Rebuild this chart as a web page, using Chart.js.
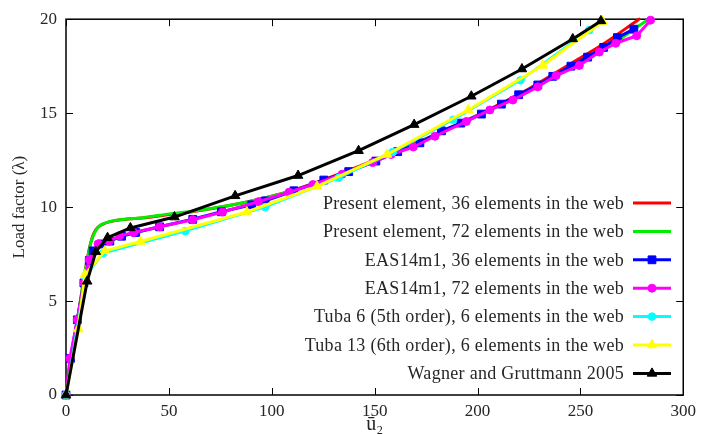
<!DOCTYPE html>
<html>
<head>
<meta charset="utf-8">
<script src="https://cdn.jsdelivr.net/npm/chart.js@4/dist/chart.umd.min.js"></script>
<style>
  html, body { margin: 0; padding: 0; background: #fff; }
</style>
</head>
<body>
<canvas id="plot" width="702" height="434"></canvas>
<script>
// tick values for both axes
const xTicks = [0, 50, 100, 150, 200, 250, 300];
const yTicks = [0, 5, 10, 15, 20];

const seriesNames = [
  'Present element, 36 elements in the web',
  'Present element, 72 elements in the web',
  'EAS14m1, 36 elements in the web',
  'EAS14m1, 72 elements in the web',
  'Tuba 6 (5th order), 6 elements in the web',
  'Tuba 13 (6th order), 6 elements in the web',
  'Wagner and Gruttmann 2005'
];

// [u2, load factor] pairs
const present36 = [[0,0],[5,3.6],[9,6.4],[10.6,7.4],[12,8.1],[13.5,8.6],[15.5,8.92],[18.5,9.12],[25,9.3],[37,9.42],[50,9.6],[62,9.77],[80,10.1],[94,10.42],[108,10.82],[125,11.45],[150,12.5],[175,13.65],[200,14.9],[225,16.3],[245,17.62],[260,18.6],[278.5,20.0]];
const present72 = [[0,0],[5,3.6],[9,6.4],[10.8,7.46],[12.2,8.15],[13.8,8.62],[16,8.98],[19.5,9.17],[26,9.32],[37.4,9.44],[50.3,9.64],[61.4,9.78],[80,10.1],[94,10.42],[107.6,10.8],[125,11.4],[150,12.45],[175,13.6],[200,14.85],[225,16.2],[250,17.7],[270,19.0],[283,20.0]];
const eas36 = [[0,0],[2.2,1.95],[5.5,4.0],[8.7,5.96],[11.3,7.16],[13.2,7.67],[17.2,8.04],[21.3,8.19],[27,8.45],[33.9,8.65],[45.5,8.95],[61.6,9.35],[75.5,9.75],[90.3,10.12],[96.8,10.33],[110.8,10.87],[125.3,11.44],[137.4,11.89],[150.6,12.45],[161.2,12.95],[172,13.42],[182.5,14.06],[191.9,14.47],[201.9,14.95],[211.6,15.48],[220,15.98],[229.3,16.5],[236.6,16.96],[245.4,17.5],[253.5,17.98],[261.3,18.5],[268,19.02],[276,19.47]];
const eas72 = [[0,0],[1.9,1.95],[5.5,4.0],[8.7,5.96],[11.3,7.19],[15.6,8.04],[21,8.19],[26.1,8.47],[32.9,8.65],[45.5,8.95],[61.6,9.33],[76.1,9.74],[93.5,10.29],[108.4,10.79],[120,11.2],[134.2,11.75],[149,12.37],[158,12.8],[168.8,13.2],[179.3,13.77],[194.6,14.56],[206,15.17],[217.2,15.7],[229.3,16.4],[238.2,17.0],[249.5,17.54],[259.2,18.25],[267.2,18.72],[277.4,19.12],[284.1,19.95]];
const tuba6 = [[0,0],[9.5,6.3],[18,7.54],[58,8.72],[96.8,10.0],[132.6,11.56],[158.8,12.93],[188.2,14.65],[220.9,16.75],[254.3,19.42]];
const tuba13 = [[0,0],[6,3.51],[9.2,6.4],[18.9,7.67],[36.2,8.17],[87.9,9.74],[122,11.1],[156,12.8],[195.5,15.17],[231.7,17.54],[260.8,19.88]];
const wagner = [[0,0],[10.3,6.05],[14.5,7.63],[20.2,8.37],[31.3,8.89],[52.7,9.47],[82.2,10.6],[112.8,11.68],[142.2,13.0],[169.2,14.39],[197,15.9],[221.6,17.35],[246.3,18.95],[260,19.91]];

const FONT = "'Liberation Serif', 'Times New Roman', serif";
const INK = '#262626';
const toXY = arr => arr.map(p => ({ x: p[0], y: p[1] }));

function series(i, pts, color, style, radius, width, smooth) {
  return {
    label: seriesNames[i],
    data: toXY(pts),
    borderColor: color,
    backgroundColor: color,
    borderWidth: width,
    pointStyle: style || 'circle',
    pointRadius: style ? radius : 0,
    pointBorderWidth: 1,
    pointBorderColor: color,
    pointBackgroundColor: color,
    tension: smooth ? 0.4 : 0,
    cubicInterpolationMode: smooth ? 'monotone' : 'default',
    order: 6 - i,   // later curves sit on top
    clip: false
  };
}

// box around the plot with inward ticks on all four sides
const frame = {
  id: 'frame',
  beforeDatasetsDraw(chart) {
    const { ctx, chartArea: a, scales: { x, y } } = chart;
    const t = 7;
    ctx.save();
    ctx.strokeStyle = '#000';
    ctx.lineWidth = 1.5;
    ctx.strokeRect(a.left, a.top, a.right - a.left, a.bottom - a.top);
    ctx.beginPath();
    xTicks.forEach(v => {
      const px = Math.round(x.getPixelForValue(v)) + 0.5;
      ctx.moveTo(px, a.bottom); ctx.lineTo(px, a.bottom - t);
      ctx.moveTo(px, a.top); ctx.lineTo(px, a.top + t);
    });
    yTicks.forEach(v => {
      const py = Math.round(y.getPixelForValue(v)) + 0.5;
      ctx.moveTo(a.left, py); ctx.lineTo(a.left + t, py);
      ctx.moveTo(a.right, py); ctx.lineTo(a.right - t, py);
    });
    ctx.lineWidth = 1;
    ctx.stroke();
    ctx.restore();
  }
};

// key in the lower right: text right-aligned, sample line to its right
const key = {
  id: 'key',
  afterDatasetsDraw(chart) {
    const { ctx } = chart;
    const textRight = 624, x0 = 633, x1 = 671, top = 203, step = 28.4;
    ctx.save();
    ctx.font = '18px ' + FONT;
    ctx.letterSpacing = '0.3px';
    ctx.textAlign = 'right';
    ctx.textBaseline = 'middle';
    chart.data.datasets.forEach((ds, i) => {
      const yy = top + i * step;
      ctx.fillStyle = INK;
      ctx.fillText(ds.label, textRight, yy + 1);
      ctx.strokeStyle = ds.borderColor;
      ctx.lineWidth = 3;
      ctx.beginPath();
      ctx.moveTo(x0, yy); ctx.lineTo(x1, yy);
      ctx.stroke();
      if (ds.pointRadius > 0) {
        ctx.fillStyle = ds.borderColor;
        ctx.strokeStyle = ds.borderColor;
        ctx.lineWidth = 1;
        Chart.helpers.drawPoint(ctx, { pointStyle: ds.pointStyle, rotation: 0, borderWidth: 1, radius: ds.pointRadius }, (x0 + x1) / 2, yy);
      }
    });
    ctx.restore();
  }
};

new Chart(document.getElementById('plot'), {
  type: 'line',
  data: {
    datasets: [
      series(0, present36, '#ff0000', null, 0, 3, true),
      series(1, present72, '#00ee00', null, 0, 3, true),
      series(2, eas36, '#0000ff', 'rect', 5.5, 3, false),
      series(3, eas72, '#ff00ff', 'circle', 4, 3, false),
      series(4, tuba6, '#00ffff', 'circle', 3.8, 2.5, false),
      series(5, tuba13, '#ffff00', 'triangle', 5.5, 3, false),
      series(6, wagner, '#000000', 'triangle', 5.5, 3, false)
    ]
  },
  options: {
    responsive: false,
    devicePixelRatio: 1,
    animation: false,
    layout: { padding: { left: 0, right: 16, top: 15, bottom: 0 } },
    plugins: { legend: { display: false }, tooltip: { enabled: false } },
    elements: { line: { borderCapStyle: 'round', borderJoinStyle: 'round' } },
    scales: {
      x: {
        type: 'linear', min: 0, max: 300,
        afterFit(s) { s.height = 39; },
        afterBuildTicks(s) { s.ticks = xTicks.map(v => ({ value: v })); },
        grid: { display: false, drawTicks: false },
        border: { display: false },
        ticks: { padding: 6, color: INK, font: { family: FONT, size: 17 } },
        title: { display: true, text: 'u\u0304\u2082', color: INK, padding: { top: 0, bottom: -3 }, font: { family: FONT, size: 20 } }
      },
      y: {
        type: 'linear', min: 0, max: 20,
        afterFit(s) { s.width = 66; },
        afterBuildTicks(s) { s.ticks = yTicks.map(v => ({ value: v })); },
        grid: { display: false, drawTicks: false },
        border: { display: false },
        ticks: { padding: 9, color: INK, font: { family: FONT, size: 17 } },
        title: { display: true, text: 'Load factor (\u03bb)', color: INK, padding: { top: 9, bottom: 0 }, font: { family: FONT, size: 17 } }
      }
    }
  },
  plugins: [frame, key]
});
</script>
</body>
</html>
